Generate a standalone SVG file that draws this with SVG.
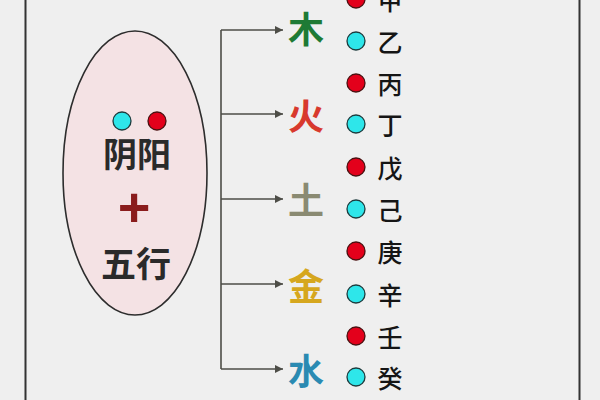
<svg xmlns="http://www.w3.org/2000/svg" width="600" height="400" viewBox="0 0 600 400">
<defs>
<style>
.cjk{font-family:"Noto Sans CJK SC","Noto Sans",sans-serif;text-anchor:middle;dominant-baseline:central}
.el{font-size:36px;font-weight:600}
.stem{font-size:25px;fill:#151515;font-weight:500}
.yin{fill:#2ee6ea;stroke:#1d3b3d;stroke-width:1.3}
.yang{fill:#e3001b;stroke:#4a1010;stroke-width:1.3}
.conn{fill:none;stroke:#4d4d47;stroke-width:1.6}
</style>
<marker id="arr" viewBox="0 0 10 10" refX="10" refY="5" markerWidth="14" markerHeight="8" markerUnits="userSpaceOnUse" orient="auto">
<path d="M0,0 L10,5 L0,10 Z" fill="#4d4d47"/>
</marker>
</defs>
<rect width="600" height="400" fill="#efefef"/>
<path d="M25.5,0 V400 M579.5,0 V400" stroke="#333" stroke-width="2" fill="none"/>

<g id="center">
<ellipse cx="135" cy="173" rx="72" ry="142" fill="#f4e2e4" stroke="#2d2d2d" stroke-width="1.6"/>
<circle class="yin" cx="122" cy="121" r="9"/>
<circle class="yang" cx="157" cy="121" r="9"/>
<text class="cjk" x="137" y="152" font-size="34" font-weight="600" fill="#2a2a2a">阴阳</text>
<text x="134" y="206" font-family="Liberation Sans, Arial, sans-serif" font-size="56" font-weight="bold" fill="#8a1c1c" text-anchor="middle" dominant-baseline="central">+</text>
<text class="cjk" x="136" y="261" font-size="35" font-weight="600" fill="#2a2a2a">五行</text>
</g>

<g id="connectors">
<path class="conn" d="M221,30 V369"/>
<path class="conn" d="M221,30 H283" marker-end="url(#arr)"/>
<path class="conn" d="M221,114 H283" marker-end="url(#arr)"/>
<path class="conn" d="M221,199 H283" marker-end="url(#arr)"/>
<path class="conn" d="M221,284 H283" marker-end="url(#arr)"/>
<path class="conn" d="M221,369 H283" marker-end="url(#arr)"/>
</g>

<g id="wood"><text class="cjk el" x="306" y="27" fill="#1e7a35">木</text></g>
<g id="fire"><text class="cjk el" x="306" y="114" fill="#d8392d">火</text></g>
<g id="earth"><text class="cjk el" x="306" y="198" fill="#8a8a72">土</text></g>
<g id="metal"><text class="cjk el" x="306" y="284" fill="#d6a71e">金</text></g>
<g id="water"><text class="cjk el" x="306" y="369" fill="#2a8ab2">水</text></g>

<g id="stem-jia"><circle class="yang" cx="356" cy="-1" r="9"/><text class="cjk stem" x="390" y="-1">甲</text></g>
<g id="stem-yi"><circle class="yin" cx="356" cy="41" r="9"/><text class="cjk stem" x="390" y="41">乙</text></g>
<g id="stem-bing"><circle class="yang" cx="356" cy="83" r="9"/><text class="cjk stem" x="390" y="83">丙</text></g>
<g id="stem-ding"><circle class="yin" cx="356" cy="124" r="9"/><text class="cjk stem" x="390" y="124">丁</text></g>
<g id="stem-wu"><circle class="yang" cx="356" cy="167" r="9"/><text class="cjk stem" x="390" y="167">戊</text></g>
<g id="stem-ji"><circle class="yin" cx="356" cy="209" r="9"/><text class="cjk stem" x="390" y="209">己</text></g>
<g id="stem-geng"><circle class="yang" cx="356" cy="251" r="9"/><text class="cjk stem" x="390" y="251">庚</text></g>
<g id="stem-xin"><circle class="yin" cx="356" cy="294" r="9"/><text class="cjk stem" x="390" y="294">辛</text></g>
<g id="stem-ren"><circle class="yang" cx="356" cy="336" r="9"/><text class="cjk stem" x="390" y="336">壬</text></g>
<g id="stem-gui"><circle class="yin" cx="356" cy="377" r="9"/><text class="cjk stem" x="390" y="377">癸</text></g>
</svg>
